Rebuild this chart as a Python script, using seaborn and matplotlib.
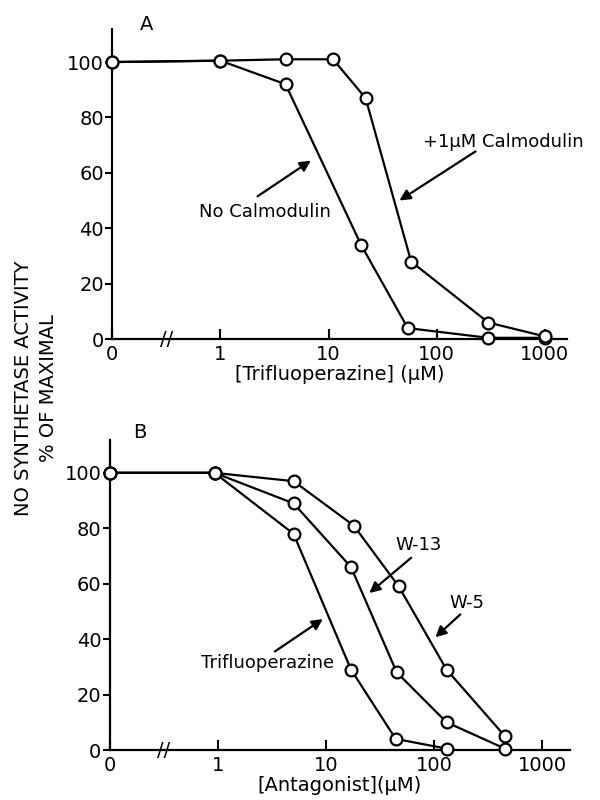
import numpy as np
import pandas as pd
import matplotlib
matplotlib.use("Agg")
import matplotlib.pyplot as plt
import matplotlib.transforms as mtransforms
import seaborn as sns

# panel A - trifluoperazine (uM) vs NO synthetase activity (% of maximal)
conc_nocal = [0, 1, 4, 20, 54, 300, 1000]
act_nocal = [100, 100.5, 92, 34, 4, 0.5, 0.5]
conc_cal = [0, 1, 4, 11, 22, 58, 300, 1000]
act_cal = [100, 100.5, 101, 101, 87, 28, 6, 1]

# panel B - different antagonists
conc_tfp = [0, 0.93, 5, 17, 44, 130]
act_tfp = [100, 100, 78, 29, 4, 0.5]
conc_w13 = [0, 0.93, 5, 17, 45, 130, 450]
act_w13 = [100, 100, 89, 66, 28, 10, 0.5]
conc_w5 = [0, 0.93, 5, 18, 47, 130, 450]
act_w5 = [100, 100, 97, 81, 59, 29, 5]

xticks = [0, 1, 10, 100, 1000]
xtick_labels = ["0", "1", "10", "100", "1000"]
yticks = [0, 20, 40, 60, 80, 100]
ZERO = 0.1  # where the "0" concentration sits on the log axis

sns.set_style("ticks")
plt.rcParams["font.family"] = ["DejaVu Sans"]
for k in ["text.color", "axes.labelcolor", "xtick.color", "ytick.color", "axes.edgecolor"]:
    plt.rcParams[k] = "black"


def draw(ax, conc, act):
    df = pd.DataFrame({"conc": [ZERO if c == 0 else c for c in conc], "act": act})
    sns.lineplot(data=df, x="conc", y="act", ax=ax, estimator=None, sort=False,
                 color="black", lw=1.6, marker="o", markersize=8.5,
                 markerfacecolor="white", markeredgecolor="black",
                 markeredgewidth=1.6, clip_on=False, zorder=3)


def setup(ax, xmax, xlabel):
    ax.set_xscale("log")
    ax.set_xlim(ZERO, xmax)
    ax.set_ylim(0, 112)
    ax.set_xticks([ZERO if t == 0 else t for t in xticks])
    ax.set_xticklabels(xtick_labels)
    ax.minorticks_off()
    ax.set_yticks(yticks)
    ax.set_yticklabels([str(t) for t in yticks])
    ax.tick_params(axis="x", direction="in", length=7, width=1.5, labelsize=14, pad=4)
    ax.tick_params(axis="y", direction="out", length=5, width=1.5, labelsize=14, pad=1)
    sns.despine(ax=ax)
    for s in ["left", "bottom"]:
        ax.spines[s].set_linewidth(1.6)
    ax.set_xlabel(xlabel, fontsize=14, labelpad=1)
    ax.set_ylabel("")
    # axis break between 0 and 1
    brk = np.sqrt(ZERO * 1)
    trans = mtransforms.blended_transform_factory(ax.transData, ax.transAxes)
    ax.text(brk, 0, "//", transform=trans, ha="center", va="center", fontsize=14)


arrow = dict(arrowstyle="-|>", color="black", lw=1.6, mutation_scale=16)

fig = plt.figure(figsize=(6, 8), dpi=100)

axA = fig.add_axes([0.187, 0.576, 0.758, 0.388])
draw(axA, conc_nocal, act_nocal)
draw(axA, conc_cal, act_cal)
setup(axA, 1600, "[Trifluoperazine] (μM)")
axA.text(2.6, 46, "No Calmodulin", ha="center", va="center", fontsize=13)
axA.annotate("", xy=(7.2, 65), xytext=(2.1, 51), arrowprops=arrow)
axA.text(409, 71, "+1μM Calmodulin", ha="center", va="center", fontsize=13)
axA.annotate("", xy=(43, 49.5), xytext=(240, 68.3), arrowprops=arrow)
fig.text(0.245, 0.969, "A", ha="center", va="center", fontsize=14)

axB = fig.add_axes([0.183, 0.0625, 0.767, 0.388])
draw(axB, conc_tfp, act_tfp)
draw(axB, conc_w13, act_w13)
draw(axB, conc_w5, act_w5)
setup(axB, 1800, "[Antagonist](μM)")
axB.text(71, 74, "W-13", ha="center", va="center", fontsize=13)
axB.annotate("", xy=(24, 56), xytext=(64, 70), arrowprops=arrow)
axB.text(202, 53, "W-5", ha="center", va="center", fontsize=13)
axB.annotate("", xy=(98, 40), xytext=(182, 49.6), arrowprops=arrow)
axB.text(2.9, 31.5, "Trifluoperazine", ha="center", va="center", fontsize=13)
axB.annotate("", xy=(9.8, 47.8), xytext=(3.2, 35), arrowprops=arrow)
fig.text(0.233, 0.459, "B", ha="center", va="center", fontsize=14)

fig.text(0.06, 0.515, "NO SYNTHETASE ACTIVITY\n% OF MAXIMAL", rotation=90,
         ha="center", va="center", multialignment="center", fontsize=14,
         linespacing=1.35)

fig.savefig("out.png", dpi=100)
